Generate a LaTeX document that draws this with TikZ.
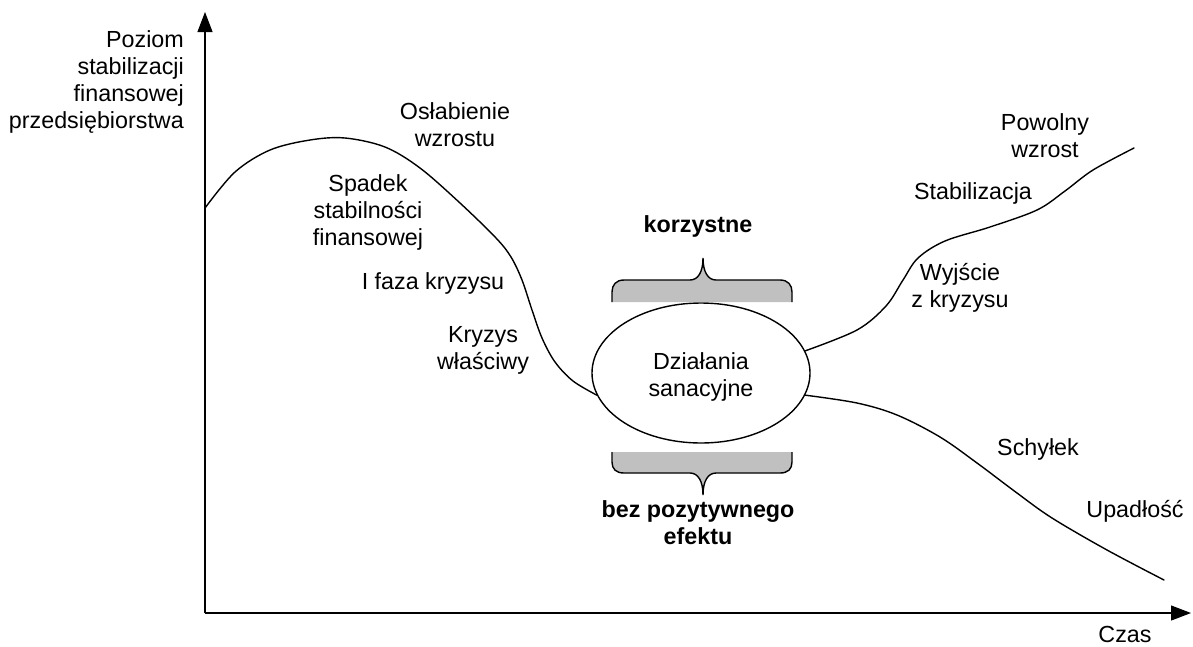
\documentclass[tikz,border=0pt]{standalone}
\usepackage{fontspec}
\setmainfont{Liberation Sans}
\usetikzlibrary{shapes.geometric,arrows.meta}
\definecolor{bracegray}{HTML}{C0C0C0}
\tikzset{
  lbl/.style={align=center,inner sep=0pt,font=\fontsize{23.3}{27}\selectfont},
  blbl/.style={lbl,font=\fontsize{23.3}{27}\selectfont\bfseries},
  axis/.style={line width=1.1pt,-{Triangle[length=20pt,width=15pt]}},
  curve/.style={line width=1.4pt,line join=round,line cap=round},
  brace/.style={line width=1.4pt},
}
\begin{document}
\begin{tikzpicture}[x=1pt,y=-1pt]
\useasboundingbox (0,0) rectangle (1193,646);
% axes
\coordinate (o) at (205,613);
\coordinate (ytip) at (205,12);
\coordinate (xtip) at (1191,613);
\draw[axis] (o) -- (ytip);
\draw[axis] (o) -- (xtip);
\node[lbl,align=right,anchor=east] (ylab) at (184,82) {Poziom\\stabilizacji\\finansowej\\przedsiębiorstwa};
\node[lbl] (czas) at (1125,634) {Czas};
% central ellipse
\node[ellipse,draw,line width=1.4pt,minimum width=218pt,minimum height=140pt,inner sep=0pt,lbl] (dz) at (701,373) {};
\node[lbl] (dztxt) at (701,377) {Działania\\sanacyjne};
% curves
\coordinate (start) at (205,208);
\coordinate (upend) at (1134,148);
\coordinate (downend) at (1164,580);
\draw[curve] plot[smooth,tension=0.55] coordinates {(start) (235,172) (270,150) (310,140) (345,138) (385,147) (420,168) (460,203) (496,238) (511,257) (522,280) (532,310) (542,338) (555,362) (573,381) (dz.192)};
\draw[curve] plot[smooth,tension=0.55] coordinates {(dz.12) (857,330) (886,306) (903,280) (918,258) (945,241) (990,227) (1037,210) (1065,191) (1093,170) (upend)};
\draw[curve] plot[smooth,tension=0.55] coordinates {(dz.348) (857,403) (897,415) (940,437) (977,463) (1017,493) (1052,518) (1107,550) (downend)};
% top brace
\fill[bracegray] (612,302) -- (612,292) .. controls (612,285) and (616,280) .. (624,280) -- (690,280) .. controls (698,280) and (703,272) .. (703,258) .. controls (703,272) and (708,280) .. (716,280) -- (780,280) .. controls (788,280) and (792,285) .. (792,292) -- (792,302) -- cycle;
\draw[brace] (612,302) -- (612,292) .. controls (612,285) and (616,280) .. (624,280) -- (690,280) .. controls (698,280) and (703,272) .. (703,258) .. controls (703,272) and (708,280) .. (716,280) -- (780,280) .. controls (788,280) and (792,285) .. (792,292) -- (792,302);
% bottom brace
\fill[bracegray] (612,452) -- (612,462) .. controls (612,469) and (616,473) .. (624,473) -- (690,473) .. controls (698,473) and (703,481) .. (703,495) .. controls (703,481) and (708,473) .. (716,473) -- (780,473) .. controls (788,473) and (792,469) .. (792,462) -- (792,452) -- cycle;
\draw[brace] (612,452) -- (612,462) .. controls (612,469) and (616,473) .. (624,473) -- (690,473) .. controls (698,473) and (703,481) .. (703,495) .. controls (703,481) and (708,473) .. (716,473) -- (780,473) .. controls (788,473) and (792,469) .. (792,462) -- (792,452);
% labels
\node[blbl] (korz) at (698,226) {korzystne};
\node[blbl] (bez) at (698,523) {bez pozytywnego\\efektu};
\node[lbl] (osl) at (455,125) {Osłabienie\\wzrostu};
\node[lbl] (spad) at (368,212) {Spadek\\stabilności\\finansowej};
\node[lbl] (faza) at (433,283) {I faza kryzysu};
\node[lbl] (kryz) at (483,350) {Kryzys\\właściwy};
\node[lbl] (pow) at (1045,136) {Powolny\\wzrost};
\node[lbl] (stab) at (973,193) {Stabilizacja};
\node[lbl] (wyj) at (960,288) {Wyjście\\z kryzysu};
\node[lbl] (schy) at (1038,449) {Schyłek};
\node[lbl] (upad) at (1135,511) {Upadłość};
\end{tikzpicture}
\end{document}
